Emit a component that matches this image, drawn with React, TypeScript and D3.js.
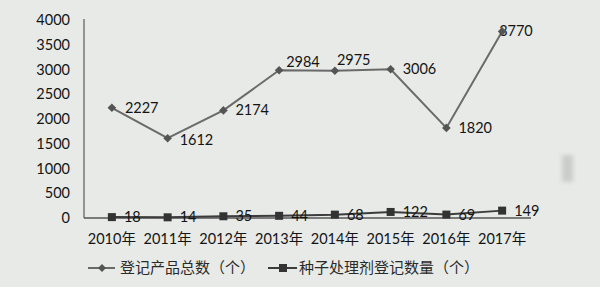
import React from "react";
import * as d3 from "d3";

// Registration counts per year
const years = ["2010年", "2011年", "2012年", "2013年", "2014年", "2015年", "2016年", "2017年"];
const totalProducts = [2227, 1612, 2174, 2984, 2975, 3006, 1820, 3770];
const seedTreatments = [18, 14, 35, 44, 68, 122, 69, 149];
const yTicks = [0, 500, 1000, 1500, 2000, 2500, 3000, 3500, 4000];
const seriesNames = ["登记产品总数（个）", "种子处理剂登记数量（个）"];

// Label nudges (dx, dy) for the total-products series, relative to each marker
const totalLabelNudge: [number, number][] = [
  [13, 0], [12, 2], [12, 0], [7, -8], [2, -11], [12, 0], [12, 0], [-3, 0],
];

const W = 600;
const H = 287;
const FONT = "Lato, 'Noto Sans CJK SC', sans-serif";
const CJK = "'Noto Sans CJK SC', sans-serif";
const INK = "#141414";

export default function App() {
  const x = d3.scaleBand<string>().domain(years).range([84, 530]);
  const y = d3.scaleLinear().domain([0, 4000]).range([218, 20]);
  const cx = (i: number) => (x(years[i]) as number) + x.bandwidth() / 2;

  const line = d3
    .line<number>()
    .x((_, i) => cx(i))
    .y((d) => y(d));

  const diamond = (px: number, py: number, r = 4.3) =>
    `M${px},${py - r}L${px + r},${py}L${px},${py + r}L${px - r},${py}Z`;

  return (
    <svg
      width={W}
      height={H}
      style={{ position: "absolute", left: 0, top: 0, display: "block" }}
    >
      <defs>
        <filter id="soft" x="-50%" y="-50%" width="200%" height="200%">
          <feGaussianBlur stdDeviation="2" />
        </filter>
      </defs>
      <rect width={W} height={H} fill="#e7eae6" />
      <rect x={562} y={155} width={11} height={27} fill="#cacdca" filter="url(#soft)" />

      {/* y tick labels */}
      {yTicks.map((t) => (
        <text
          key={t}
          x={70}
          y={y(t)}
          dy="0.35em"
          textAnchor="end"
          fontFamily={FONT}
          fontSize={14.5}
          fill={INK}
        >
          {t}
        </text>
      ))}

      {/* axes */}
      <line x1={84} x2={84} y1={y(4000) - 1} y2={y(0)} stroke="#666" strokeWidth={1.3} />
      <line x1={84} x2={531} y1={y(0)} y2={y(0)} stroke="#555" strokeWidth={1.3} />

      {/* x labels */}
      {years.map((yr, i) => (
        <text
          key={yr}
          x={cx(i)}
          y={244}
          textAnchor="middle"
          fontFamily={FONT}
          fontSize={14.5}
          fill={INK}
        >
          {yr}
        </text>
      ))}

      {/* seed-treatment series */}
      <path d={line(seedTreatments) || ""} fill="none" stroke="#3c3c3c" strokeWidth={2} />
      {seedTreatments.map((v, i) => (
        <rect key={i} x={cx(i) - 4} y={y(v) - 4} width={8} height={8} fill="#333" />
      ))}
      {seedTreatments.map((v, i) => (
        <text
          key={i}
          x={cx(i) + 12}
          y={y(v)}
          dy="0.35em"
          fontFamily={FONT}
          fontSize={14.5}
          fill={INK}
        >
          {v}
        </text>
      ))}

      {/* total-products series */}
      <path d={line(totalProducts) || ""} fill="none" stroke="#6a6a6a" strokeWidth={2} />
      {totalProducts.map((v, i) => (
        <text
          key={i}
          x={cx(i) + totalLabelNudge[i][0]}
          y={y(v) + totalLabelNudge[i][1]}
          dy="0.35em"
          fontFamily={FONT}
          fontSize={14.5}
          fill={INK}
        >
          {v}
        </text>
      ))}
      {totalProducts.map((v, i) => (
        <path key={i} d={diamond(cx(i), y(v))} fill="#555" />
      ))}

      {/* legend */}
      <g>
        <line x1={88} x2={115} y1={268} y2={268} stroke="#6a6a6a" strokeWidth={2} />
        <path d={diamond(102, 268, 4)} fill="#555" />
        <text x={120} y={268} dy="0.35em" fontFamily={CJK} fontSize={15} fill="#2a2a2a">
          {seriesNames[0]}
        </text>
        <line x1={268} x2={297} y1={268} y2={268} stroke="#3c3c3c" strokeWidth={2} />
        <rect x={279} y={264} width={8} height={8} fill="#333" />
        <text x={299} y={268} dy="0.35em" fontFamily={CJK} fontSize={15} fill="#2a2a2a">
          {seriesNames[1]}
        </text>
      </g>
    </svg>
  );
}
